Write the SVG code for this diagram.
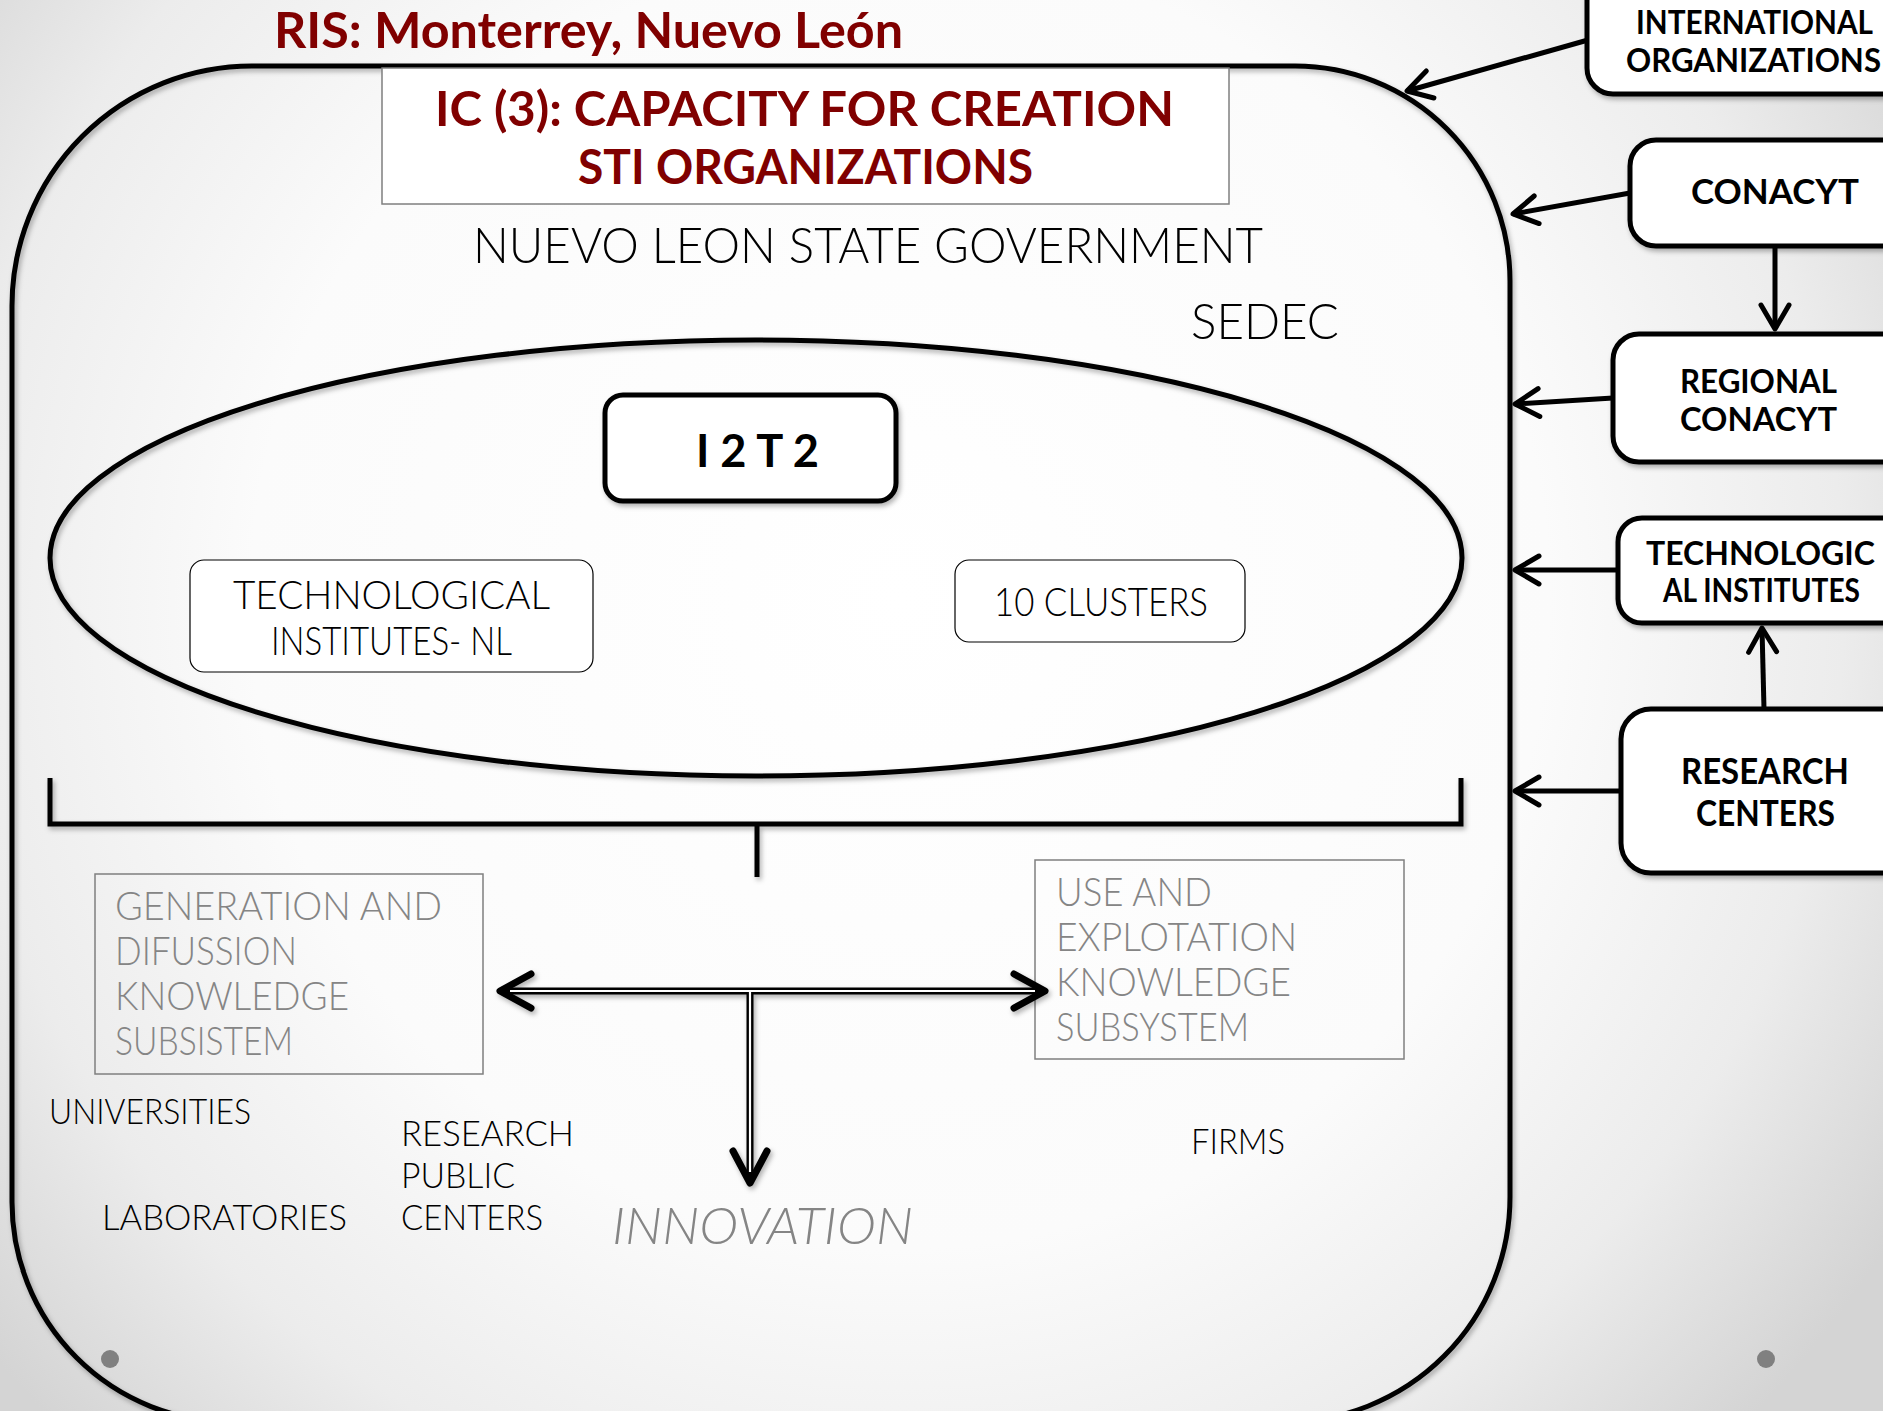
<svg xmlns="http://www.w3.org/2000/svg" width="1883" height="1411" viewBox="0 0 1883 1411">
<defs>
<radialGradient id="bg" cx="900" cy="600" r="1180" gradientUnits="userSpaceOnUse">
<stop offset="0" stop-color="#ffffff"/>
<stop offset="0.55" stop-color="#fbfbfb"/>
<stop offset="0.8" stop-color="#ececec"/>
<stop offset="1" stop-color="#d4d4d4"/>
</radialGradient>
<filter id="sh" x="-5%" y="-5%" width="112%" height="115%">
<feDropShadow dx="2" dy="3" stdDeviation="2.5" flood-color="#000" flood-opacity="0.3"/>
</filter>
<marker id="ah" viewBox="-30 -20 36 40" refX="0" refY="0" markerWidth="36" markerHeight="40" markerUnits="userSpaceOnUse" orient="auto" overflow="visible">
<path d="M-24,-14 L0,0 L-24,14" fill="none" stroke="#000" stroke-width="5" stroke-linecap="round" stroke-linejoin="round"/>
</marker>
<style>
.t{font-family:Lato,"Liberation Sans",sans-serif}
.b{font-weight:700}
.r{font-weight:400}
.l{font-weight:300}
.red{fill:#800000}
.k{fill:#000}
.g{fill:#858585}
.box{fill:#fff;stroke:#000;stroke-width:5}
.thin{fill:#fff;stroke:#000;stroke-width:1.2}
.gb{fill:none;stroke:#7f7f7f;stroke-width:1.5}
.ln{fill:none;stroke:#000;stroke-width:5}
.ar{fill:none;stroke:#000;stroke-width:5;marker-end:url(#ah)}
</style>
</defs>
<rect x="0" y="0" width="1883" height="1411" fill="url(#bg)"/>

<g id="title">
<text class="t b red" x="274" y="48" font-size="50" textLength="629" lengthAdjust="spacingAndGlyphs">RIS: Monterrey, Nuevo León</text>
</g>

<g id="region">
<path class="ln" filter="url(#sh)" d="M252,66 H1295 A215,215 0 0 1 1510,281 V1197 A225,225 0 0 1 1285,1422 H232 A220,220 0 0 1 12,1202 V306 A240,240 0 0 1 252,66 Z"/>
</g>

<g id="ic-box">
<rect x="382" y="68" width="847" height="136" fill="#fff" stroke="#7f7f7f" stroke-width="1.5"/>
<text class="t b red" x="435" y="126" font-size="48" textLength="739" lengthAdjust="spacingAndGlyphs">IC (3): CAPACITY FOR CREATION</text>
<text class="t b red" x="578" y="184" font-size="48" textLength="455" lengthAdjust="spacingAndGlyphs">STI ORGANIZATIONS</text>
</g>

<g id="government">
<text class="t l k" x="473" y="263" font-size="50" textLength="790" lengthAdjust="spacingAndGlyphs">NUEVO LEON STATE GOVERNMENT</text>
</g>
<g id="sedec">
<text class="t l k" x="1191" y="339" font-size="50" textLength="148" lengthAdjust="spacingAndGlyphs">SEDEC</text>
</g>

<g id="ellipse">
<ellipse cx="756" cy="558" rx="706" ry="218" fill="none" stroke="#000" stroke-width="5" filter="url(#sh)"/>
</g>

<g id="i2t2">
<rect class="box" x="605" y="395" width="291" height="106" rx="18" filter="url(#sh)"/>
<text class="t b k" x="696" y="467" font-size="46" textLength="123" lengthAdjust="spacingAndGlyphs">I 2 T 2</text>
</g>

<g id="ti-nl">
<rect class="thin" x="190" y="560" width="403" height="112" rx="14"/>
<text class="t l k" x="233" y="609" font-size="40" textLength="317" lengthAdjust="spacingAndGlyphs">TECHNOLOGICAL</text>
<text class="t l k" x="271" y="655" font-size="40" textLength="241" lengthAdjust="spacingAndGlyphs">INSTITUTES- NL</text>
</g>

<g id="clusters">
<rect class="thin" x="955" y="560" width="290" height="82" rx="14"/>
<text class="t l k" x="994" y="616" font-size="40" textLength="214" lengthAdjust="spacingAndGlyphs">10 CLUSTERS</text>
</g>

<g id="generation">
<rect class="gb" x="95" y="874" width="388" height="200"/>
<text class="t l g" x="115" y="920" font-size="40" textLength="327" lengthAdjust="spacingAndGlyphs">GENERATION AND</text>
<text class="t l g" x="115" y="965" font-size="40" textLength="182" lengthAdjust="spacingAndGlyphs">DIFUSSION</text>
<text class="t l g" x="115" y="1010" font-size="40" textLength="234" lengthAdjust="spacingAndGlyphs">KNOWLEDGE</text>
<text class="t l g" x="115" y="1055" font-size="40" textLength="178" lengthAdjust="spacingAndGlyphs">SUBSISTEM</text>
</g>

<g id="use">
<rect class="gb" x="1035" y="860" width="369" height="199"/>
<text class="t l g" x="1056" y="906" font-size="40" textLength="156" lengthAdjust="spacingAndGlyphs">USE AND</text>
<text class="t l g" x="1056" y="951" font-size="40" textLength="241" lengthAdjust="spacingAndGlyphs">EXPLOTATION</text>
<text class="t l g" x="1056" y="996" font-size="40" textLength="235" lengthAdjust="spacingAndGlyphs">KNOWLEDGE</text>
<text class="t l g" x="1056" y="1041" font-size="40" textLength="193" lengthAdjust="spacingAndGlyphs">SUBSYSTEM</text>
</g>

<g id="labels">
<text class="t l k" x="49" y="1124" font-size="35" textLength="202" lengthAdjust="spacingAndGlyphs">UNIVERSITIES</text>
<text class="t l k" x="401" y="1146" font-size="35" textLength="173" lengthAdjust="spacingAndGlyphs">RESEARCH</text>
<text class="t l k" x="401" y="1188" font-size="35" textLength="114" lengthAdjust="spacingAndGlyphs">PUBLIC</text>
<text class="t l k" x="401" y="1230" font-size="35" textLength="142" lengthAdjust="spacingAndGlyphs">CENTERS</text>
<text class="t l k" x="102" y="1230" font-size="35" textLength="245" lengthAdjust="spacingAndGlyphs">LABORATORIES</text>
<text class="t l k" x="1191" y="1154" font-size="35" textLength="94" lengthAdjust="spacingAndGlyphs">FIRMS</text>
</g>

<g id="innovation">
<text class="t l g" x="612" y="1244" font-size="52" font-style="italic" textLength="301" lengthAdjust="spacingAndGlyphs">INNOVATION</text>
</g>

<g id="intl-org">
<rect class="box" x="1587" y="-30" width="340" height="124" rx="26" filter="url(#sh)"/>
<text class="t b k" x="1636" y="34" font-size="33" textLength="237" lengthAdjust="spacingAndGlyphs">INTERNATIONAL</text>
<text class="t b k" x="1626" y="72" font-size="33" textLength="255" lengthAdjust="spacingAndGlyphs">ORGANIZATIONS</text>
</g>
<g id="conacyt">
<rect class="box" x="1630" y="140" width="300" height="106" rx="26" filter="url(#sh)"/>
<text class="t b k" x="1691" y="204" font-size="34" textLength="168" lengthAdjust="spacingAndGlyphs">CONACYT</text>
</g>
<g id="regional-conacyt">
<rect class="box" x="1613" y="334" width="320" height="128" rx="26" filter="url(#sh)"/>
<text class="t b k" x="1680" y="393" font-size="33" textLength="157" lengthAdjust="spacingAndGlyphs">REGIONAL</text>
<text class="t b k" x="1680" y="431" font-size="33" textLength="157" lengthAdjust="spacingAndGlyphs">CONACYT</text>
</g>
<g id="tech-institutes">
<rect class="box" x="1618" y="518" width="320" height="105" rx="24" filter="url(#sh)"/>
<text class="t b k" x="1646" y="565" font-size="33" textLength="229" lengthAdjust="spacingAndGlyphs">TECHNOLOGIC</text>
<text class="t b k" x="1663" y="602" font-size="33" textLength="197" lengthAdjust="spacingAndGlyphs">AL INSTITUTES</text>
</g>
<g id="research-centers">
<rect class="box" x="1621" y="709" width="320" height="164" rx="30" filter="url(#sh)"/>
<text class="t b k" x="1681" y="784" font-size="36" textLength="168" lengthAdjust="spacingAndGlyphs">RESEARCH</text>
<text class="t b k" x="1696" y="826" font-size="36" textLength="139" lengthAdjust="spacingAndGlyphs">CENTERS</text>
</g>

<g id="connectors">
<path class="ln" filter="url(#sh)" d="M50,778 V824 H1461 V778 M757,824 V877"/>
<path class="ar" d="M1588,40 L1407,91"/>
<path class="ar" d="M1630,193 L1513,214"/>
<path class="ar" d="M1775,246 L1775,329"/>
<path class="ar" d="M1613,398 L1515,404"/>
<path class="ar" d="M1618,570 L1515,570"/>
<path class="ar" d="M1764,709 L1762,628"/>
<path class="ar" d="M1621,791 L1515,791"/>
<g filter="url(#sh)">
<path d="M750,991 V1180" stroke="#000" stroke-width="7" fill="none"/>
<path d="M503,991 H1042" stroke="#000" stroke-width="7" fill="none"/>
<path d="M750,991 V1172" stroke="#fff" stroke-width="2.2" fill="none"/>
<path d="M510,991 H1035" stroke="#fff" stroke-width="2.2" fill="none"/>
<path d="M531,974 L500,991 L531,1008" fill="none" stroke="#000" stroke-width="7" stroke-linecap="round" stroke-linejoin="round"/>
<path d="M1014,974 L1045,991 L1014,1008" fill="none" stroke="#000" stroke-width="7" stroke-linecap="round" stroke-linejoin="round"/>
<path d="M733,1151 L750,1183 L767,1151" fill="none" stroke="#000" stroke-width="7" stroke-linecap="round" stroke-linejoin="round"/>
</g>
</g>

<g id="dots">
<circle cx="110" cy="1359" r="9" fill="#808080"/>
<circle cx="1766" cy="1359" r="9" fill="#808080"/>
</g>
</svg>
